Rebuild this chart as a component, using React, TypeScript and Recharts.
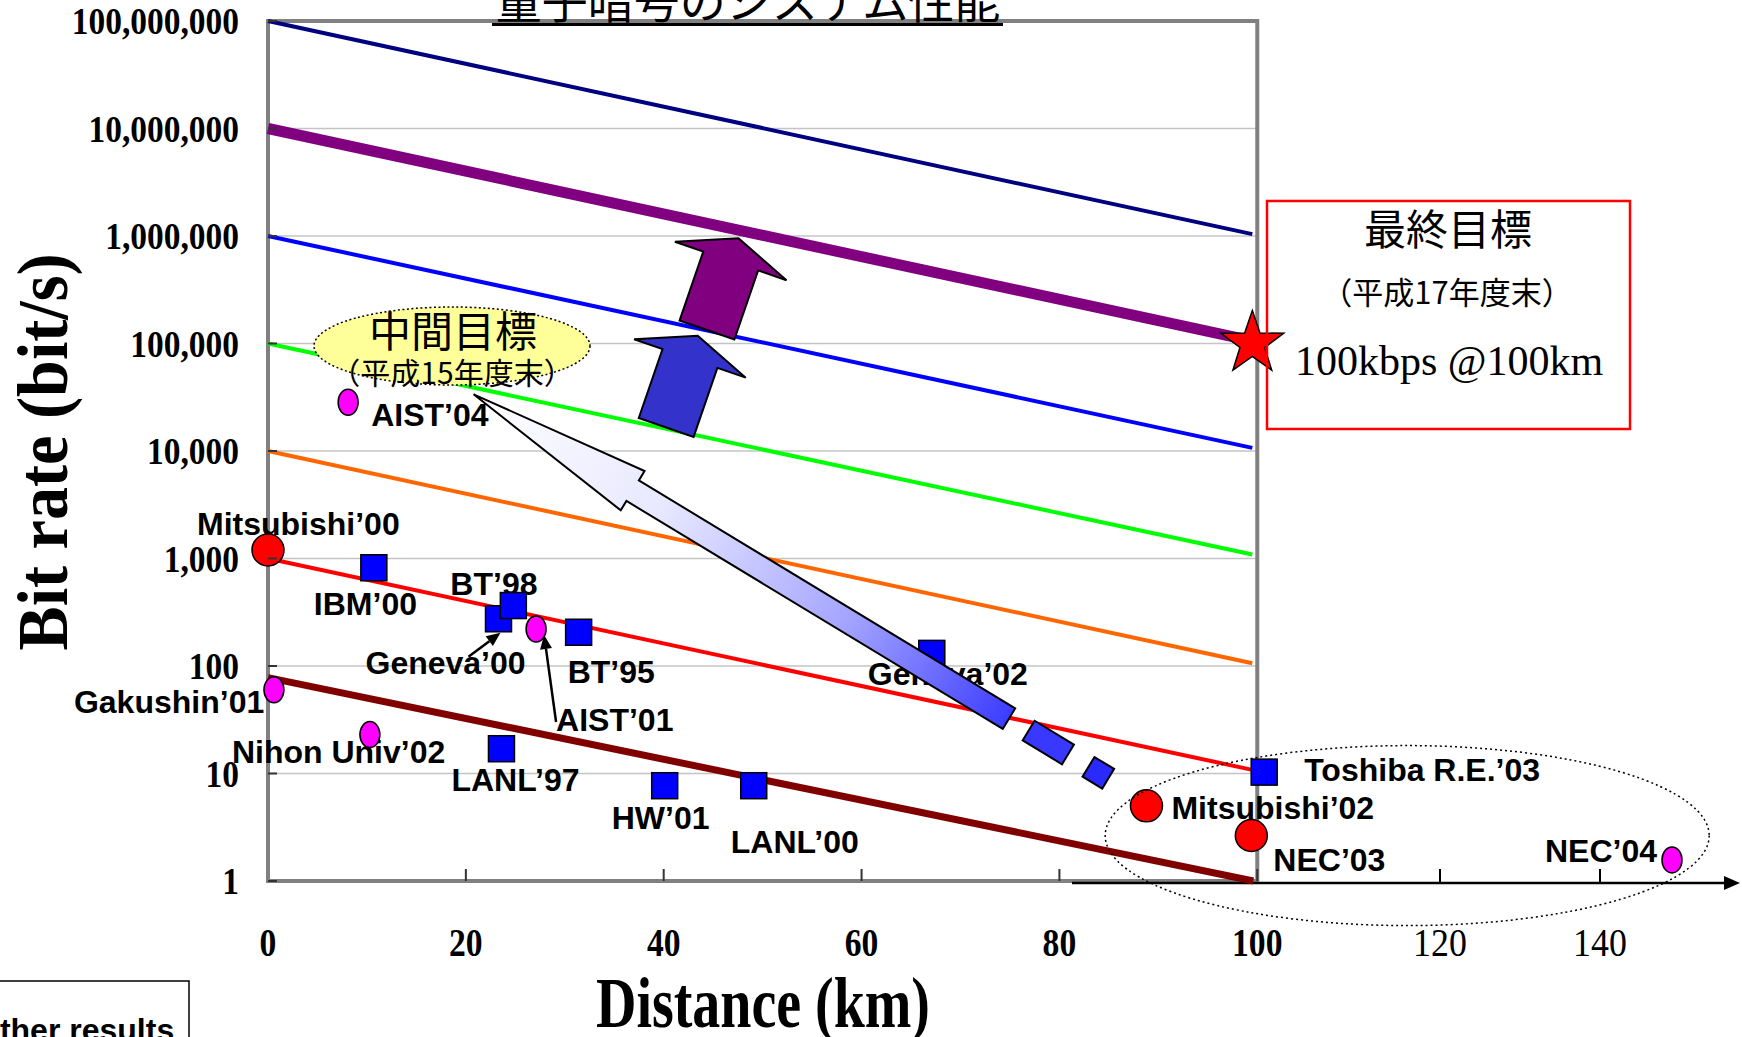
import React from 'react'
import {
  ComposedChart,
  Line,
  Scatter,
  XAxis,
  YAxis,
  ReferenceLine,
  ReferenceArea,
  ReferenceDot,
} from 'recharts'

const W = 1742
const H = 1037

const distanceTicks = [0, 20, 40, 60, 80, 100]
const extendedTicks = [120, 140]
const rateTicks = [1, 10, 100, 1000, 10000, 100000, 1000000, 10000000, 100000000]
const gridRates = [10, 100, 1000, 10000, 100000, 1000000, 10000000]

// limit lines, start / end values
const limit100M = [{ km: 0, v: 1e8 }, { km: 99.5, v: 1.04e6 }]
const goal10M = [{ km: 0, v: 1e7 }, { km: 99.6, v: 1.05e5 }]
const limit1M = [{ km: 0, v: 1e6 }, { km: 99.5, v: 1.07e4 }]
const limit100k = [{ km: 0, v: 1e5 }, { km: 99.5, v: 1.09e3 }]
const limit10k = [{ km: 0, v: 1e4 }, { km: 99.5, v: 106 }]
const limit1k = [{ km: 0, v: 1e3 }, { km: 99.5, v: 10.8 }]
const limitLow = [{ km: 0, v: 78 }, { km: 99.6, v: 1 }]

// experiments
const redResults = [
  { name: 'Mitsubishi’00', km: 0, v: 1200 },
  { name: 'Mitsubishi’02', km: 88.8, v: 5.0 },
  { name: 'NEC’03', km: 99.4, v: 2.65 },
]
const blueResults = [
  { name: 'IBM’00', km: 10.7, v: 820 },
  { name: 'Geneva’00', km: 23.3, v: 275 },
  { name: 'BT’98', km: 24.8, v: 365 },
  { name: 'BT’95', km: 31.4, v: 206 },
  { name: 'Geneva’02', km: 67.1, v: 131 },
  { name: 'LANL’97', km: 23.6, v: 17 },
  { name: 'HW’01', km: 40.1, v: 7.7 },
  { name: 'LANL’00', km: 49.1, v: 7.7 },
  { name: 'Toshiba R.E.’03', km: 100.7, v: 10.3 },
]
const pinkResults = [
  { name: 'AIST’04', km: 8.1, v: 28400 },
  { name: 'AIST’01', km: 27.1, v: 221 },
  { name: 'Gakushin’01', km: 0.6, v: 60 },
  { name: 'Nihon Univ’02', km: 10.3, v: 23 },
]
// plotted against the compressed axis past 100 km
const farResults = [{ name: 'NEC’04', km: 149, v: 1.57 }]
const finalGoal = [{ km: 99.5, v: 1e5 }]

// annotation anchors (data coords)
const midTargetAt = { km: 18.6, v: 94800 }
const beamTipAt = { km: 20.78, v: 33690 }
const blueLiftAt = { km: 40.25, v: 16550 }
const purpleLiftAt = { km: 44.37, v: 133500 }
const groupOvalAt = { km: 115.9, v: 2.645 }

const serif = "'Liberation Serif', 'Times New Roman', serif"
const sans = "'Liberation Sans', Arial, sans-serif"
const cjk = "'Noto Sans CJK JP', 'Noto Sans', sans-serif"

// label offset from the marker centre (+ optional pointer arrow: tail dx,dy -> head dx,dy)
const labelAt: Record<string, { dx: number; dy: number; anchor?: string; arrow?: number[] }> = {
  'Mitsubishi’00': { dx: -71, dy: -15 },
  'IBM’00': { dx: -60, dy: 47 },
  'BT’98': { dx: -63, dy: -11 },
  'Geneva’00': { dx: -133, dy: 55, arrow: [-30, 38, 2, 14] },
  'BT’95': { dx: -11, dy: 51 },
  'AIST’01': { dx: 20, dy: 102, arrow: [20, 93, 8, 6] },
  'Geneva’02': { dx: -64, dy: 32 },
  'Gakushin’01': { dx: -200, dy: 23 },
  'Nihon Univ’02': { dx: -138, dy: 28 },
  'LANL’97': { dx: -50, dy: 42 },
  'HW’01': { dx: -53, dy: 43 },
  'LANL’00': { dx: -23, dy: 67 },
  'AIST’04': { dx: 23, dy: 24 },
  'Toshiba R.E.’03': { dx: 40, dy: 9 },
  'Mitsubishi’02': { dx: 25, dy: 13 },
  'NEC’03': { dx: 22, dy: 35 },
  'NEC’04': { dx: -15, dy: 2, anchor: 'end' },
}

function Pointer({ x1, y1, x2, y2 }: any) {
  const a = Math.atan2(y2 - y1, x2 - x1)
  const len = 14
  const hw = 6
  const bx = x2 - Math.cos(a) * len
  const by = y2 - Math.sin(a) * len
  const px = -Math.sin(a) * hw
  const py = Math.cos(a) * hw
  return (
    <g>
      <line x1={x1} y1={y1} x2={bx} y2={by} stroke="#000" strokeWidth={2.5} />
      <polygon points={`${x2},${y2} ${bx + px},${by + py} ${bx - px},${by - py}`} fill="#000" />
    </g>
  )
}

const resultShape = (kind: 'circle' | 'square' | 'oval') => (props: any) => {
  const { cx, cy, payload } = props
  if (cx == null || cy == null) return <g />
  const place = labelAt[payload.name]
  let marker
  if (kind === 'circle') {
    marker = <circle cx={cx} cy={cy} r={16} fill="#ff0000" stroke="#000" strokeWidth={1.5} />
  } else if (kind === 'square') {
    marker = <rect x={cx - 13} y={cy - 13} width={26} height={26} fill="#0000ff" stroke="#000" strokeWidth={1.5} />
  } else {
    marker = <ellipse cx={cx} cy={cy} rx={10} ry={13} fill="#ff00ff" stroke="#000" strokeWidth={1.5} />
  }
  return (
    <g>
      {place && (
        <text
          x={cx + place.dx}
          y={cy + place.dy}
          textAnchor={place.anchor || 'start'}
          fontFamily={sans}
          fontWeight={700}
          fontSize={32}
          fill="#000"
        >
          {payload.name}
        </text>
      )}
      {place && place.arrow && (
        <Pointer
          x1={cx + place.arrow[0]}
          y1={cy + place.arrow[1]}
          x2={cx + place.arrow[2]}
          y2={cy + place.arrow[3]}
        />
      )}
      {marker}
    </g>
  )
}

const starShape = (props: any) => {
  const { cx, cy } = props
  const pts = []
  for (let i = 0; i < 10; i++) {
    const r = i % 2 === 0 ? 33 : 13
    const a = ((-90 + i * 36) * Math.PI) / 180
    pts.push(`${cx + r * Math.cos(a)},${cy + r * Math.sin(a)}`)
  }
  return <polygon points={pts.join(' ')} fill="#ff0000" stroke="#000" strokeWidth={1.5} />
}

function RateTick(props: any) {
  const { x, y, payload } = props
  return (
    <g>
      <line x1={x} x2={x + 9} y1={y} y2={y} stroke="#333" strokeWidth={2} />
      <text
        transform={`translate(${x - 29},${y + 13}) scale(0.88,1)`}
        textAnchor="end"
        fontFamily={serif}
        fontWeight={700}
        fontSize={38}
        fill="#000"
      >
        {Number(payload.value).toLocaleString('en-US')}
      </text>
    </g>
  )
}

function DistanceTick(props: any) {
  const { x, y, payload } = props
  return (
    <g>
      {payload.value > 0 && <line x1={x} x2={x} y1={y - 12} y2={y} stroke="#333" strokeWidth={2} />}
      <text
        transform={`translate(${x},${y + 75}) scale(0.82,1)`}
        textAnchor="middle"
        fontFamily={serif}
        fontWeight={700}
        fontSize={41}
        fill="#000"
      >
        {payload.value}
      </text>
    </g>
  )
}

const extTickShape = (value: number) => (p: any) => {
  const x = p.x1
  const yb = Math.max(p.y1, p.y2)
  return (
    <g>
      <line x1={x} x2={x} y1={yb - 12} y2={yb + 2} stroke="#000" strokeWidth={2} />
      <text
        transform={`translate(${x},${yb + 75}) scale(0.92,1)`}
        textAnchor="middle"
        fontFamily={serif}
        fontSize={39}
        fill="#000"
      >
        {value}
      </text>
    </g>
  )
}

const axisArrowShape = (p: any) => {
  const y = p.y1 + 2
  const x2 = p.x2 - 2
  return (
    <g>
      <line x1={p.x1} x2={x2 - 12} y1={y} y2={y} stroke="#000" strokeWidth={2.5} />
      <polygon points={`${x2},${y} ${x2 - 16},${y - 7} ${x2 - 16},${y + 7}`} fill="#000" />
    </g>
  )
}

const midTargetShape = (p: any) => (
  <g>
    <ellipse cx={p.cx} cy={p.cy} rx={138} ry={39} fill="#ffff99" stroke="#000" strokeWidth={1.5} strokeDasharray="2 2.5" />
    <text x={p.cx + 1} y={p.cy + 1} textAnchor="middle" fontFamily={cjk} fontSize={42} fill="#000">
      中間目標
    </text>
    <text x={p.cx} y={p.cy + 38} textAnchor="middle" fontFamily={cjk} fontSize={30} fill="#000">
      （平成15年度末）
    </text>
  </g>
)

const liftShape = (fill: string) => (p: any) => (
  <g transform={`translate(${p.cx},${p.cy}) rotate(19)`}>
    <polygon
      points="-29,0 29,0 29,-73 59,-73 0,-97 -59,-73 -29,-73"
      fill={fill}
      stroke="#000"
      strokeWidth={2}
      strokeLinejoin="miter"
    />
  </g>
)

const beamShape = (p: any) => {
  const ang = (Math.atan2(0.518, 0.855) * 180) / Math.PI
  const head = 186
  const headW = 23
  const shaftW = 12
  const end = 626
  const pts = [
    [0, 0],
    [head, -headW],
    [head, -shaftW],
    [end, -shaftW],
    [end, shaftW],
    [head, shaftW],
    [head, headW],
  ]
  return (
    <g transform={`translate(${p.cx},${p.cy}) rotate(${ang})`}>
      <defs>
        <linearGradient id="beamFill" x1="0" y1="0" x2="1" y2="0">
          <stop offset="0" stopColor="#ffffff" />
          <stop offset="0.35" stopColor="#e8e8ff" />
          <stop offset="0.7" stopColor="#a4a4ff" />
          <stop offset="1" stopColor="#3c3cff" />
        </linearGradient>
      </defs>
      <polygon points={pts.map((q) => q.join(',')).join(' ')} fill="url(#beamFill)" stroke="#000" strokeWidth={2} />
      <rect x={649} y={-11.5} width={46} height={23} fill="#3838ff" stroke="#000" strokeWidth={2} />
      <rect x={719} y={-11.5} width={23} height={23} fill="#2a2aff" stroke="#000" strokeWidth={2} />
    </g>
  )
}

const groupOvalShape = (p: any) => (
  <ellipse cx={p.cx} cy={p.cy} rx={302} ry={90} fill="none" stroke="#000" strokeWidth={1.5} strokeDasharray="2 3" />
)

const limitLines = [
  { data: limit100M, color: '#000080', width: 4 },
  { data: goal10M, color: '#800080', width: 11 },
  { data: limit1M, color: '#0000ff', width: 4 },
  { data: limit100k, color: '#00ff00', width: 4 },
  { data: limit10k, color: '#ff6600', width: 4 },
  { data: limit1k, color: '#ff0000', width: 4 },
  { data: limitLow, color: '#800000', width: 7 },
]

export default function App() {
  return (
    <div style={{ position: 'absolute', left: 0, top: 0, width: W, height: H, background: '#fff', overflow: 'hidden' }}>
      <ComposedChart width={W} height={H} margin={{ top: 21, right: 0, bottom: 96, left: 0 }}>
        <XAxis
          dataKey="km"
          type="number"
          domain={[0, 149]}
          ticks={distanceTicks}
          interval={0}
          tick={(p: any) => <DistanceTick {...p} />}
          tickLine={false}
          axisLine={false}
          tickSize={0}
          tickMargin={0}
          height={60}
        />
        <XAxis xAxisId="ext" dataKey="km" type="number" domain={[-26.5, 157.75]} hide />
        <YAxis
          dataKey="v"
          type="number"
          scale="log"
          domain={[1, 1e8]}
          ticks={rateTicks}
          interval={0}
          tick={(p: any) => <RateTick {...p} />}
          tickLine={false}
          axisLine={false}
          tickSize={0}
          tickMargin={0}
          width={268}
        />

        {gridRates.map((v) => (
          <ReferenceLine
            key={v}
            segment={[{ x: 0, y: v }, { x: 100, y: v }]}
            stroke="#c4c4c4"
            strokeWidth={1.5}
            zIndex={40}
          />
        ))}
        <ReferenceArea x1={0} x2={100} y1={1} y2={1e8} fill="none" fillOpacity={0} stroke="#808080" strokeWidth={4} zIndex={50} />
        <ReferenceLine
          xAxisId="ext"
          segment={[{ x: 74, y: 1 }, { x: 157.75, y: 1 }]}
          ifOverflow="visible"
          shape={axisArrowShape}
          zIndex={55}
        />
        {extendedTicks.map((t) => (
          <ReferenceLine key={t} xAxisId="ext" x={t} shape={extTickShape(t)} zIndex={55} />
        ))}

        {limitLines.map((l, i) => (
          <Line
            key={i}
            data={l.data}
            dataKey="v"
            type="linear"
            stroke={l.color}
            strokeWidth={l.width}
            dot={false}
            activeDot={false}
            isAnimationActive={false}
          />
        ))}

        <ReferenceDot x={midTargetAt.km} y={midTargetAt.v} r={1} shape={midTargetShape} zIndex={450} />
        <ReferenceDot x={blueLiftAt.km} y={blueLiftAt.v} r={1} shape={liftShape('#3333cc')} zIndex={460} />
        <ReferenceDot x={purpleLiftAt.km} y={purpleLiftAt.v} r={1} shape={liftShape('#800080')} zIndex={460} />

        <Scatter data={blueResults} shape={resultShape('square')} isAnimationActive={false} />
        <Scatter data={pinkResults} shape={resultShape('oval')} isAnimationActive={false} />
        <Scatter data={redResults} shape={resultShape('circle')} isAnimationActive={false} />
        <Scatter data={farResults} xAxisId="ext" shape={resultShape('oval')} isAnimationActive={false} />

        <ReferenceDot x={beamTipAt.km} y={beamTipAt.v} r={1} shape={beamShape} zIndex={700} />
        <Scatter data={finalGoal} shape={starShape} isAnimationActive={false} zIndex={710} />
        <ReferenceDot xAxisId="ext" x={groupOvalAt.km} y={groupOvalAt.v} r={1} shape={groupOvalShape} zIndex={720} />
      </ComposedChart>

      <svg width={W} height={H} style={{ position: 'absolute', left: 0, top: 0, pointerEvents: 'none' }}>
        <text x={748} y={18} textAnchor="middle" fontFamily={cjk} fontSize={46} fill="#000">
          量子暗号のシステム性能
        </text>
        <line x1={492} x2={1003} y1={24.5} y2={24.5} stroke="#000" strokeWidth={3} />
        <text
          transform="translate(67,452) rotate(-90)"
          textAnchor="middle"
          fontFamily={serif}
          fontWeight={700}
          fontSize={72}
          textLength={397}
          lengthAdjust="spacingAndGlyphs"
          fill="#000"
        >
          Bit rate (bit/s)
        </text>
        <text
          x={763}
          y={1027}
          textAnchor="middle"
          fontFamily={serif}
          fontWeight={700}
          fontSize={72}
          textLength={334}
          lengthAdjust="spacingAndGlyphs"
          fill="#000"
        >
          Distance (km)
        </text>
        <rect x={1267} y={201} width={363} height={228} fill="none" stroke="#ff0000" strokeWidth={2.5} />
        <text x={1448} y={245} textAnchor="middle" fontFamily={cjk} fontSize={42} fill="#000">
          最終目標
        </text>
        <text x={1447} y={304} textAnchor="middle" fontFamily={cjk} fontSize={31} fill="#000">
          （平成17年度末）
        </text>
        <text x={1449} y={375} textAnchor="middle" fontFamily={serif} fontSize={42} fill="#000">
          100kbps @100km
        </text>
        <rect x={-5} y={981} width={194} height={100} fill="#fff" stroke="#000" strokeWidth={1.5} />
        <text x={-25} y={1041} fontFamily={sans} fontWeight={700} fontSize={32} fill="#000">
          Other results
        </text>
      </svg>
    </div>
  )
}
